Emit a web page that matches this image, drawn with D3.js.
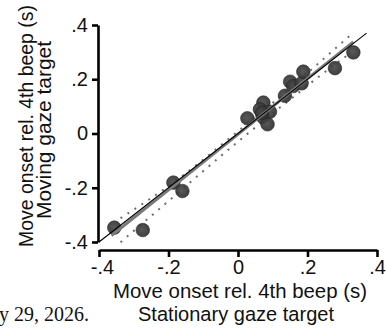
<!DOCTYPE html>
<html>
<head>
<meta charset="utf-8">
<script src="https://cdn.jsdelivr.net/npm/d3@7"></script>
<style>
  html, body { margin: 0; padding: 0; background: #fff; }
  svg { display: block; }
</style>
</head>
<body>
<script>
// ---- data ----
const stationaryOnset = [-0.356, -0.274, -0.186, -0.160, 0.027, 0.073, 0.063, 0.071, 0.092, 0.085, 0.069, 0.135, 0.150, 0.159, 0.183, 0.188, 0.279, 0.332];
const movingOnset     = [-0.347, -0.356, -0.181, -0.212, 0.056, 0.114, 0.089, 0.062, 0.080, 0.034, 0.076, 0.139, 0.191, 0.175, 0.185, 0.228, 0.241, 0.299];

const fitX = [-0.364, 0.332];
const fitY = [-0.376, 0.338];

const ciX     = [-0.338, -0.2, 0, 0.13, 0.23, 0.325];
const ciUpper = [-0.312, -0.194, 0.008, 0.145, 0.257, 0.364];
const ciLower = [-0.401, -0.249, -0.030, 0.105, 0.207, 0.298];

const identityX = [-0.4, 0.37];

const tickValues = [-0.4, -0.2, 0, 0.2, 0.4];
const tickLabels = ["-.4", "-.2", "0", ".2", ".4"];

const xTitle = ["Move onset rel. 4th beep (s)", "Stationary gaze target"];
const yTitle = ["Move onset rel. 4th beep (s)", "Moving gaze target"];
const footer = "y 29, 2026.";

// ---- chart ----
const W = 386, H = 328;
const svg = d3.select("body").append("svg").attr("width", W).attr("height", H);

const x = d3.scaleLinear().domain([-0.4, 0.4]).range([99, 377]);
const y = d3.scaleLinear().domain([-0.4, 0.4]).range([242, 25]);

const font = "'Liberation Sans', Arial, Helvetica, sans-serif";

// confidence band (dotted)
const line = d3.line().x(d => x(d[0])).y(d => y(d[1])).curve(d3.curveMonotoneX);
[ciUpper, ciLower].forEach(arr => {
  svg.append("path")
    .attr("d", line(ciX.map((v, i) => [v, arr[i]])))
    .attr("fill", "none")
    .attr("stroke", "#6e6e6e")
    .attr("stroke-width", 2)
    .attr("stroke-dasharray", "2,6.3");
});

// points
const defs = svg.append("defs");
const grad = defs.append("radialGradient").attr("id", "ball").attr("cx", "45%").attr("cy", "45%").attr("r", "60%");
grad.append("stop").attr("offset", "0%").attr("stop-color", "#4c4c4c");
grad.append("stop").attr("offset", "100%").attr("stop-color", "#2e2e2e");

svg.append("g").selectAll("circle")
  .data(stationaryOnset.map((v, i) => [v, movingOnset[i]]))
  .join("circle")
  .attr("cx", d => x(d[0]))
  .attr("cy", d => y(d[1]))
  .attr("r", 6.8)
  .attr("fill", "url(#ball)")
  .attr("fill-opacity", 0.93)
  .attr("stroke", "#262626")
  .attr("stroke-width", 0.6);

// regression line (gray)
svg.append("path")
  .attr("d", d3.line().x(d => x(d[0])).y(d => y(d[1]))(fitX.map((v, i) => [v, fitY[i]])))
  .attr("stroke", "#7a7a7a")
  .attr("stroke-width", 3)
  .attr("fill", "none");

// identity line (black)
svg.append("path")
  .attr("d", d3.line().x(d => x(d)).y(d => y(d))(identityX))
  .attr("stroke", "#000")
  .attr("stroke-width", 1.1)
  .attr("fill", "none");

// axes
const fmt = d => tickLabels[tickValues.indexOf(d)];

const yAxis = svg.append("g").attr("transform", "translate(98,0)")
  .call(d3.axisLeft(y).tickValues(tickValues).tickFormat(fmt).tickSize(6).tickSizeOuter(0).tickPadding(4));
const xAxis = svg.append("g").attr("transform", "translate(0,250)")
  .call(d3.axisBottom(x).tickValues(tickValues).tickFormat(fmt).tickSize(7).tickSizeOuter(0).tickPadding(3));

[xAxis, yAxis].forEach(g => {
  g.select(".domain").attr("stroke", "#000").attr("stroke-width", 2.6);
  g.selectAll(".tick line").attr("stroke", "#000").attr("stroke-width", 2.6);
  g.selectAll(".tick text").attr("font-family", font).attr("font-size", 20).attr("fill", "#111");
});
xAxis.selectAll(".tick text").filter(d => d === tickValues[0]).attr("dx", 3);

// axis titles
function title(tx, ty, rot, txt, len, size) {
  svg.append("text").attr("transform", `translate(${tx},${ty}) rotate(${rot})`).attr("text-anchor", "middle")
    .attr("font-family", font).attr("font-size", size).attr("fill", "#111")
    .attr("textLength", len).attr("lengthAdjust", "spacingAndGlyphs").text(txt);
}
title(240, 298, 0, xTitle[0], 254, 20.5);
title(236, 321, 0, xTitle[1], 196, 20.5);
title(33, 126, -90, yTitle[0], 242, 19.4);
title(51, 130, -90, yTitle[1], 178, 20.5);

// footer fragment
svg.append("text").attr("x", 89).attr("y", 321).attr("text-anchor", "end")
  .attr("font-family", "'Liberation Serif', 'Times New Roman', serif").attr("font-size", 20).attr("fill", "#111").text(footer);
</script>
</body>
</html>
